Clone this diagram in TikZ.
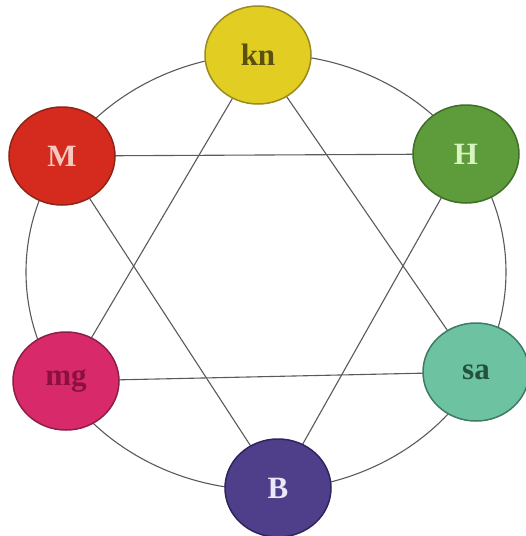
\documentclass[tikz,border=0pt]{standalone}
\usepackage{fontspec}
\setmainfont{Liberation Serif}
\usetikzlibrary{shapes.geometric}
\definecolor{knfill}{HTML}{E2CE22}
\definecolor{knborder}{HTML}{9A8A20}
\definecolor{kntext}{HTML}{5A5012}
\definecolor{Mfill}{HTML}{D52B1E}
\definecolor{Mborder}{HTML}{8E2418}
\definecolor{Mtext}{HTML}{F6C8C0}
\definecolor{Hfill}{HTML}{5E9B3A}
\definecolor{Hborder}{HTML}{3E6E28}
\definecolor{Htext}{HTML}{D8F5C0}
\definecolor{mgfill}{HTML}{D82A6A}
\definecolor{mgborder}{HTML}{8E1E48}
\definecolor{mgtext}{HTML}{8A1040}
\definecolor{safill}{HTML}{6DC2A2}
\definecolor{saborder}{HTML}{3E7A64}
\definecolor{satext}{HTML}{24503F}
\definecolor{Bfill}{HTML}{4F3F8A}
\definecolor{Bborder}{HTML}{2E2460}
\definecolor{Btext}{HTML}{ECE8F8}
\definecolor{linegray}{HTML}{5A5A5A}
\tikzset{
  planet/.style={ellipse, minimum width=106pt, minimum height=98pt, inner sep=0pt, line width=1.5pt, font=\bfseries\fontsize{31}{33}\selectfont},
  link/.style={draw=linegray, line width=1.1pt}
}
\begin{document}
\begin{tikzpicture}[x=1pt,y=-1pt]
\useasboundingbox (0,0) rectangle (526,536);
\fill[white] (0,0) rectangle (526,536);
\coordinate (ctr) at (266,272);
\draw[link] (ctr) ellipse [x radius=240, y radius=218];
\coordinate (pkn) at (258,55);
\coordinate (pM) at (62,156);
\coordinate (pH) at (466,154);
\coordinate (pmg) at (66,381);
\coordinate (psa) at (476,372);
\coordinate (pB) at (278,488);
\draw[link] (pkn) -- (pmg) -- (psa) -- cycle;
\draw[link] (pM) -- (pH) -- (pB) -- cycle;
\node[planet, fill=knfill, draw=knborder, text=kntext] (kn) at (pkn) {kn};
\node[planet, fill=Mfill, draw=Mborder, text=Mtext] (M) at (pM) {M};
\node[planet, fill=Hfill, draw=Hborder, text=Htext] (H) at (pH) {H};
\node[planet, fill=mgfill, draw=mgborder, text=mgtext] (mg) at (pmg) {mg};
\node[planet, fill=safill, draw=saborder, text=satext] (sa) at (psa) {sa};
\node[planet, fill=Bfill, draw=Bborder, text=Btext] (B) at (pB) {B};
\end{tikzpicture}
\end{document}
